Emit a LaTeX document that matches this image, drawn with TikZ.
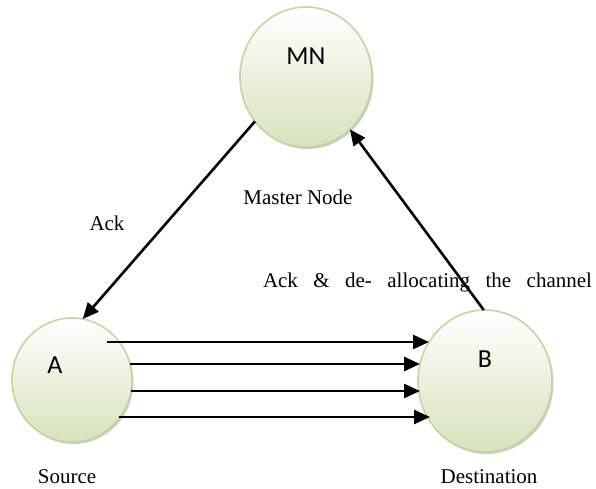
\documentclass[tikz,border=0pt]{standalone}
\usepackage{fontspec}
\setmainfont{Liberation Serif}
\newfontfamily\letterfont{Carlito}
\usetikzlibrary{shapes.geometric,arrows.meta,shadows}
\definecolor{rimgreen}{HTML}{C3D69B}
\definecolor{fillgreen}{HTML}{D6E3BC}
\begin{document}
\begin{tikzpicture}[x=1pt,y=-1pt,
  station/.style={ellipse,draw=rimgreen,line width=1.6pt,top color=white,bottom color=fillgreen,
    inner sep=0pt,outer sep=0pt,
    drop shadow={opacity=0.4,shadow xshift=1.5pt,shadow yshift=-2pt}},
  letter/.style={font=\letterfont\fontsize{26}{30}\selectfont,text=black},
  caption/.style={font=\fontsize{21}{24}\selectfont,inner sep=0pt},
  arr/.style={line width=2.6pt,-{Triangle[length=16pt,width=14pt]}}]
\useasboundingbox (0,0) rectangle (596,489);
\node[station,minimum width=132pt,minimum height=140pt] (mn) at (306,77) {};
\node[station,minimum width=120pt,minimum height=124pt] (a) at (72,380) {};
\node[station,minimum width=134pt,minimum height=142pt] (b) at (485,381) {};
\node[letter] (mnt) at (306,56) {MN};
\node[letter] (at) at (55,365) {A};
\node[letter] (bt) at (485,359) {B};
\node[caption] (master) at (298,197) {Master Node};
\node[caption] (ack) at (107,223) {Ack};
\node[caption] (ackdealloc) at (427.5,282) {\makebox[329pt][s]{Ack \& de- allocating the channel}};
\node[caption] (source) at (67,477) {Source};
\node[caption] (dest) at (489,477) {Destination};
% channel arrows
\coordinate (s1) at (107,342); \coordinate (t1) at (429,342);
\coordinate (s2) at (130,364); \coordinate (t2) at (420,364);
\coordinate (s3) at (131,391); \coordinate (t3) at (420,391);
\coordinate (s4) at (119,417); \coordinate (t4) at (430,417);
\draw[arr] (s1) -- (t1);
\draw[arr] (s2) -- (t2);
\draw[arr] (s3) -- (t3);
\draw[arr] (s4) -- (t4);
\draw[arr] (mn.221) -- (a.80);
\draw[arr] (b.91.6) -- (mn.310.5);
\end{tikzpicture}
\end{document}
